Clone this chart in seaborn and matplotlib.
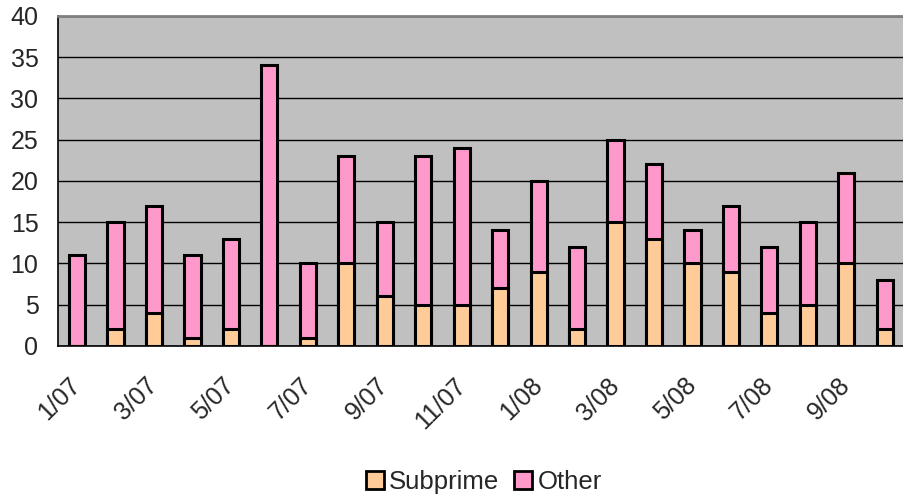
import numpy as np
import matplotlib
matplotlib.use("Agg")
import matplotlib.pyplot as plt
import seaborn as sns
from matplotlib.patches import Patch

months = ["1/07", "2/07", "3/07", "4/07", "5/07", "6/07", "7/07", "8/07", "9/07", "10/07", "11/07",
          "12/07", "1/08", "2/08", "3/08", "4/08", "5/08", "6/08", "7/08", "8/08", "9/08", "10/08"]
subprime = [0, 2, 4, 1, 2, 0, 1, 10, 6, 5, 5, 7, 9, 2, 15, 13, 10, 9, 4, 5, 10, 2]
totals = [11, 15, 17, 11, 13, 34, 10, 23, 15, 23, 24, 14, 20, 12, 25, 22, 14, 17, 12, 15, 21, 8]

TAN = "#FFCC99"
PINK = "#FF99CC"

sns.set_style("white")
plt.rcParams['font.family'] = ['Liberation Sans', 'DejaVu Sans']

fig = plt.figure(figsize=(9.04, 4.99), dpi=100)
ax = fig.add_axes([0.064, 0.307, 0.936, 0.661])
ax.set_facecolor("#C0C0C0")

# stacked look: full total bar in pink, subprime drawn over it
sns.barplot(x=months, y=totals, color=PINK, width=0.42, saturation=1,
            edgecolor="black", linewidth=2.2, ax=ax, zorder=3)
sns.barplot(x=months, y=subprime, color=TAN, width=0.42, saturation=1,
            edgecolor="black", linewidth=2.2, ax=ax, zorder=4)

ax.set_ylim(0, 40)
ax.set_xlim(-0.5, len(months) - 0.5)
ax.set_yticks(np.arange(0, 41, 5))
ax.yaxis.grid(True, color="black", linewidth=1.0, zorder=1)
ax.set_axisbelow(True)

ax.set_xticks(range(0, len(months), 2))
ax.set_xticklabels(months[::2], rotation=45, ha="right", va="center",
                   rotation_mode="anchor", fontsize=18)
ax.set_xticks(np.arange(-0.5, len(months), 1), minor=True)
ax.tick_params(axis="x", which="major", length=0, pad=26)
ax.tick_params(axis="x", which="minor", length=7, width=1, color="black", direction="out")
ax.tick_params(axis="y", length=6, width=1, color="black", direction="out", labelsize=18, pad=8)

for side in ["left", "bottom"]:
    ax.spines[side].set_color("black")
    ax.spines[side].set_linewidth(1.2)
ax.spines["top"].set_color("#808080")
ax.spines["top"].set_linewidth(2)
ax.spines["right"].set_visible(False)
ax.set_xlabel("")
ax.set_ylabel("")

handles = [Patch(facecolor=TAN, edgecolor="black", linewidth=2, label="Subprime"),
           Patch(facecolor=PINK, edgecolor="black", linewidth=2, label="Other")]
fig.legend(handles=handles, loc="lower center", bbox_to_anchor=(0.535, -0.01), ncol=2,
           frameon=False, fontsize=18.5, handlelength=0.7, handleheight=0.7,
           handletextpad=0.2, columnspacing=0.6, borderaxespad=0)

fig.savefig("out.png", dpi=100)
